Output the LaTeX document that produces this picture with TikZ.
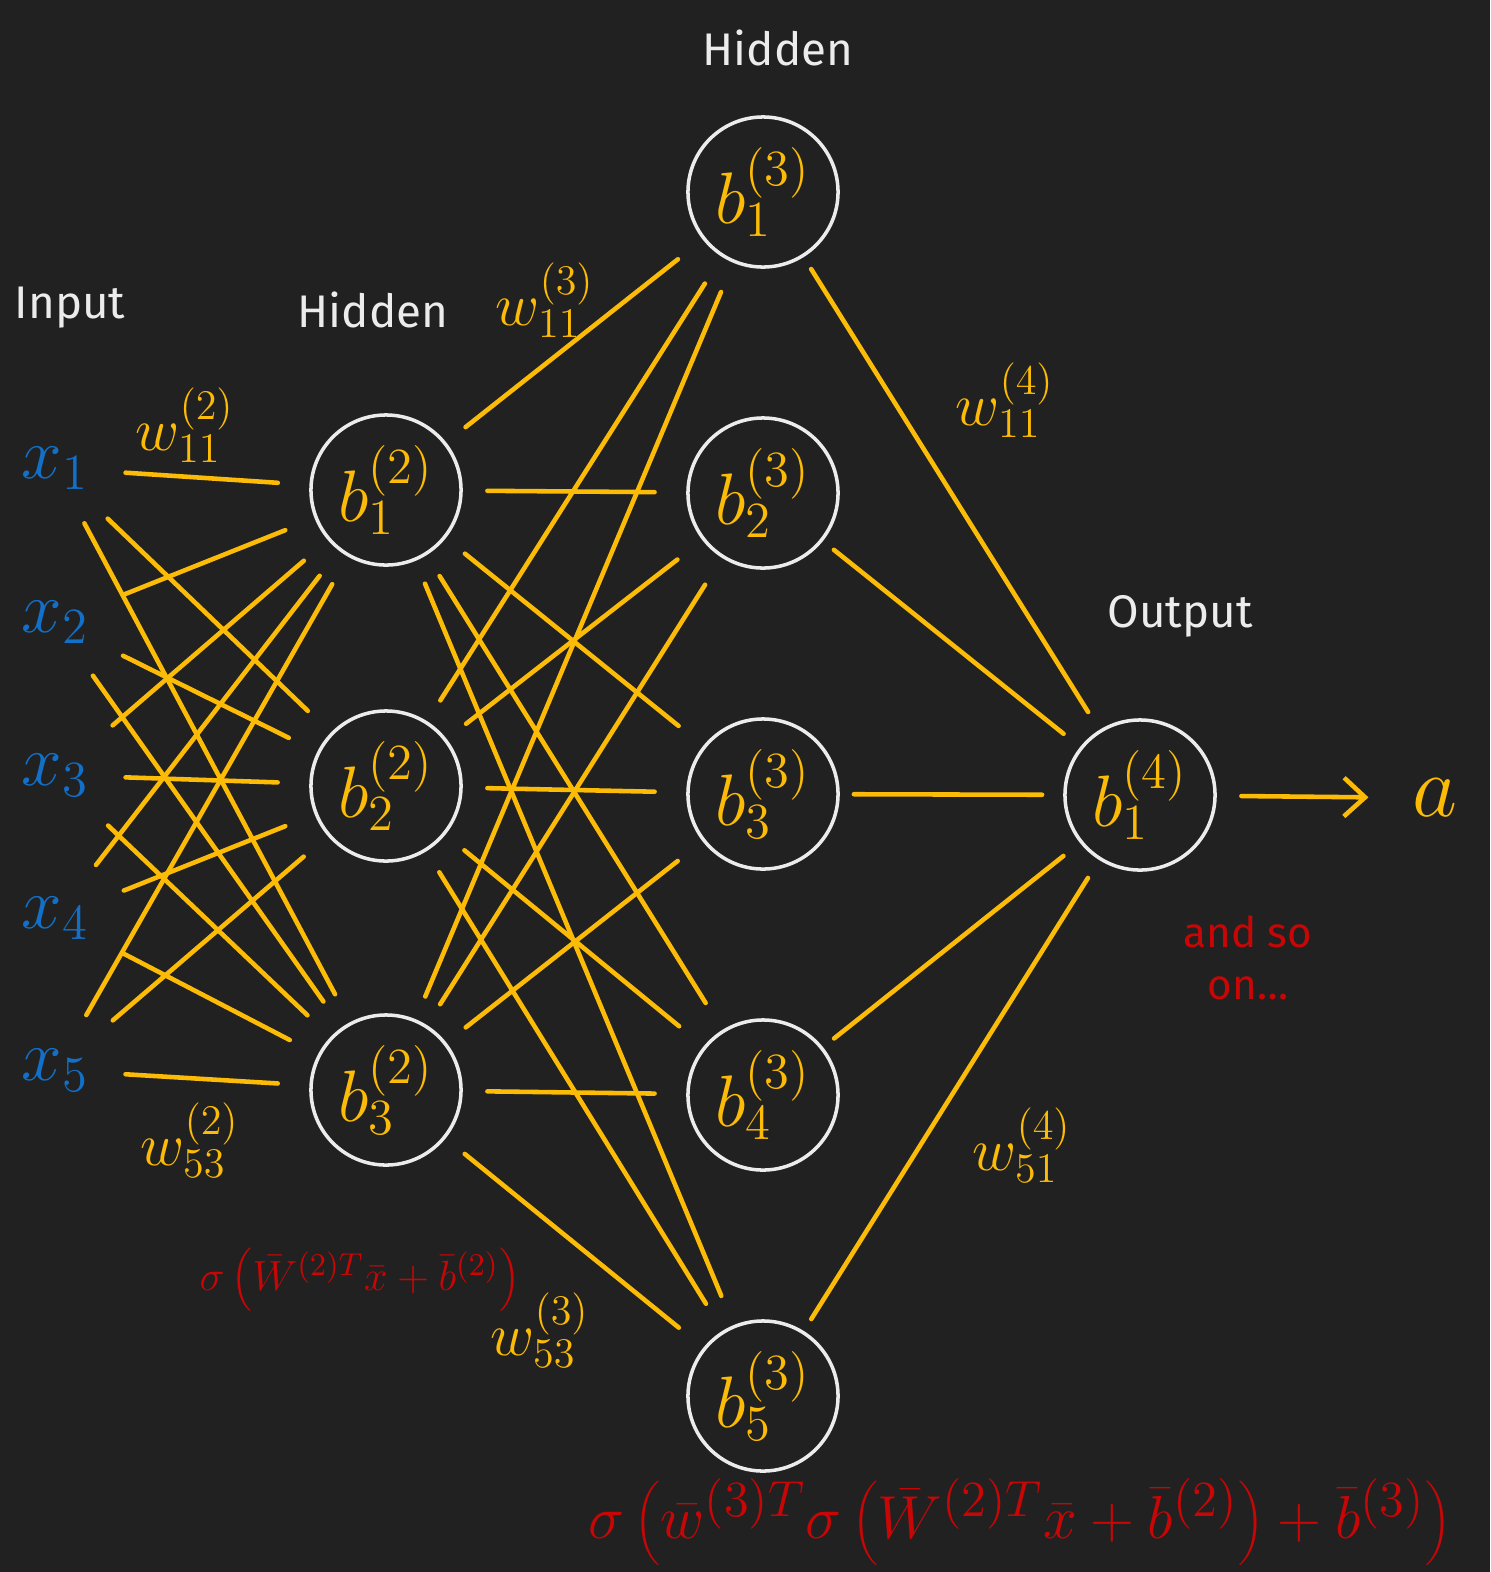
\documentclass[tikz,border=0pt]{standalone}
\usepackage{fontspec}
\setmainfont{Fira Sans}
\usepackage{xcolor}
\usepackage{tikz}
\usetikzlibrary{arrows.meta}
\definecolor{boardbg}{RGB}{33,33,33}
\definecolor{chalkwhite}{RGB}{236,236,236}
\definecolor{penyellow}{RGB}{252,187,6}
\definecolor{penblue}{RGB}{18,112,200}
\definecolor{penred}{RGB}{200,6,6}

\begin{document}
\begin{tikzpicture}[x=0.01cm, y=-0.01cm,
    neuron/.style={draw=chalkwhite, line width=1pt, circle, minimum size=1.5cm, inner sep=0pt, text=penyellow, font=\fontsize{20}{22}\selectfont},
    inlabel/.style={text=penblue, font=\fontsize{22}{24}\selectfont},
    title/.style={text=chalkwhite, font=\fontsize{13}{15}\selectfont},
    weight/.style={text=penyellow, font=\fontsize{18}{20}\selectfont},
    note/.style={text=penred, font=\fontsize{12}{15}\selectfont},
    wire/.style={draw=penyellow, line width=1.3pt, line cap=round, shorten <=7pt, shorten >=9pt}]
        \fill[boardbg] (0,0) rectangle (1490,1572);
        \useasboundingbox (0,0) rectangle (1490,1572);
        % layer titles
        \node[title] (tin) at (70,308) {Input};
        \node[title] (thid) at (373,310) {Hidden};
        \node[title] (thidb) at (778,48) {Hidden};
        \node[title] (tout) at (1180,616) {Output};
        % inputs
        \foreach \i/\y in {1/468, 2/622, 3/775, 4/918, 5/1070}
          \node[inlabel] (x\i) at (55,\y) {$x_{\i}$};
        % first hidden layer
        \foreach \i/\y in {1/490, 2/786, 3/1090}
          \node[neuron] (h\i) at (386,\y) {$b_{\i}^{(2)}$};
        % second hidden layer
        \foreach \i in {1,...,5}
          \node[neuron] (g\i) at (763,{192+301*(\i-1)}) {$b_{\i}^{(3)}$};
        % output
        \node[neuron] (out) at (1140,795) {$b_{1}^{(4)}$};
        \node[text=penyellow, font=\fontsize{26}{28}\selectfont] (a) at (1435,798) {$a$};
        % connections
        \foreach \i in {1,...,5}
          \foreach \j in {1,2,3}
            \draw[wire] (x\i) -- (h\j);
        \foreach \j in {1,2,3}
          \foreach \k in {1,...,5}
            \draw[wire] (h\j) -- (g\k);
        \foreach \k in {1,...,5}
          \draw[wire, shorten <=4pt, shorten >=6pt] (g\k) -- (out);
        \draw[wire, -{Straight Barb[length=6pt, width=11pt]}] (out) -- (a);
        % weights
        \node[weight] (w112) at (185,425) {$w_{11}^{(2)}$};
        \node[weight] (w532) at (190,1140) {$w_{53}^{(2)}$};
        \node[weight] (w113) at (545,300) {$w_{11}^{(3)}$};
        \node[weight] (w533) at (540,1330) {$w_{53}^{(3)}$};
        \node[weight] (w114) at (1005,400) {$w_{11}^{(4)}$};
        \node[weight] (w514) at (1022,1145) {$w_{51}^{(4)}$};
        % red notes
        \node[note, font=\fontsize{13}{15}\selectfont] (act2) at (360,1280) {$\sigma\left(\bar{W}^{(2)T}\bar{x}+\bar{b}^{(2)}\right)$};
        \node[note, align=center] (more) at (1248,958) {and so\\on\dots};
        \node[note, font=\fontsize{19}{21}\selectfont] (act3) at (1020,1522) {$\sigma\left(\bar{w}^{(3)T}\sigma\left(\bar{W}^{(2)T}\bar{x}+\bar{b}^{(2)}\right)+\bar{b}^{(3)}\right)$};
      \end{tikzpicture}
\end{document}
